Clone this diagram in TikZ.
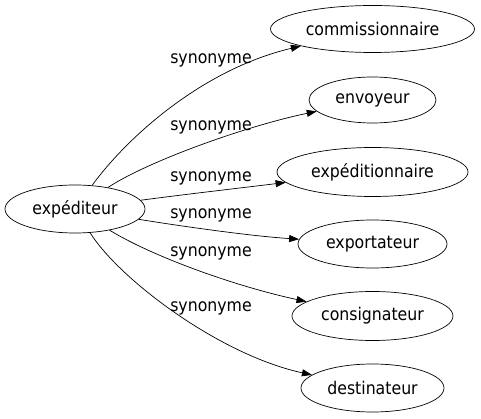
\documentclass[tikz,border=0pt]{standalone}
\usepackage{fontspec}
\setmainfont{DejaVu Sans Condensed}
\usepackage{tikz}
\usetikzlibrary{arrows.meta}
\usetikzlibrary{shapes.geometric}
\usetikzlibrary{positioning}

\begin{document}
\begin{tikzpicture}[x=1pt, y=-1pt,
  word/.style={ellipse, draw, line width=0.7pt, inner sep=0pt, minimum height=48pt, font=\fontsize{17.5}{20}\selectfont},
  syn/.style={font=\fontsize{17.5}{20}\selectfont, inner sep=0pt},
  edge/.style={-{Triangle[length=10pt, width=7pt]}, line width=0.7pt}]

\useasboundingbox (0,0) rectangle (481,419);

%words
\node [word, minimum width=140pt] (exped) at (75,209) {expéditeur};
\node [word, minimum width=204pt, minimum height=47pt] (commi) at (372.5,29) {commissionnaire};
\node [word, minimum width=127pt, minimum height=46pt] (envoy) at (372.5,100) {envoyeur};
\node [word, minimum width=191pt, minimum height=49pt] (expedn) at (372.5,172) {expéditionnaire};
\node [word, minimum width=149pt] (expor) at (372.5,244) {exportateur};
\node [word, minimum width=161pt, minimum height=49pt] (consi) at (372.5,316) {consignateur};
\node [word, minimum width=143pt] (desti) at (372.5,388) {destinateur};

%edges
\draw [edge] (exped) .. controls (125,140) and (200,70) .. (commi);
\draw [edge] (exped) .. controls (150,160) and (250,125) .. (envoy);
\draw [edge] (exped) .. controls (180,195) and (240,188) .. (expedn);
\draw [edge] (exped) .. controls (180,226) and (250,236) .. (expor);
\draw [edge] (exped) .. controls (150,255) and (230,285) .. (consi);
\draw [edge] (exped) .. controls (120,280) and (220,355) .. (desti);

%labels
\node [syn] (syn1) at (211,60) {synonyme};
\node [syn] (syn2) at (211,127) {synonyme};
\node [syn] (syn3) at (211,178) {synonyme};
\node [syn] (syn4) at (211,215) {synonyme};
\node [syn] (syn5) at (211,253) {synonyme};
\node [syn] (syn6) at (211,308) {synonyme};

\end{tikzpicture}
\end{document}
